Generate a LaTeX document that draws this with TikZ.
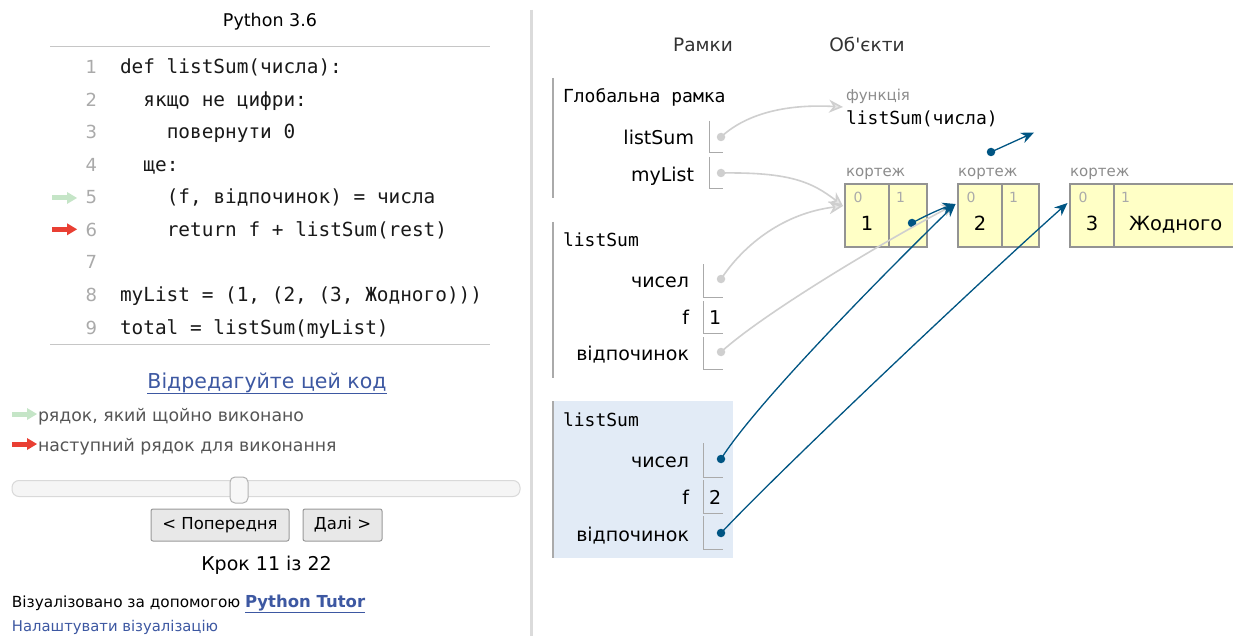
\documentclass[tikz,border=0pt]{standalone}
\usepackage{fontspec}
\setmainfont{DejaVu Sans}
\newfontfamily\codefont{DejaVu Sans Mono}
\usetikzlibrary{arrows.meta}
\definecolor{linkblue}{HTML}{3D58A2}
\definecolor{ptblue}{HTML}{005583}
\definecolor{arrgray}{HTML}{CFCFCF}
\definecolor{tuplefill}{HTML}{FFFFC6}
\definecolor{framefill}{HTML}{E2EBF6}
\definecolor{greenarr}{HTML}{C5E5C7}
\definecolor{redarr}{HTML}{E93F33}
\definecolor{txtgray}{HTML}{555555}
\definecolor{lightgray}{HTML}{AAAAAA}
\newcommand{\fsz}[1]{\fontsize{#1}{#1}\selectfont}
\begin{document}
\begin{tikzpicture}[x=1pt,y=-1pt,
  every node/.style={inner sep=0pt,outer sep=0pt},
  codeline/.style={anchor=base west,font=\codefont\fsz{19.4},text=black!90},
  lineno/.style={anchor=base east,font=\fsz{18},text=lightgray},
  legendtxt/.style={anchor=base west,font=\fsz{17.3},text=txtgray},
  btn/.style={draw=gray!80,fill=gray!18,rounded corners=2pt,line width=1pt,font=\fsz{16.5},anchor=north west},
  varname/.style={anchor=base east,font=\fsz{19}},
  frametitle/.style={anchor=base west,font=\codefont\fsz{18}},
  objlabel/.style={anchor=base west,font=\fsz{15},text=gray!90},
  idx/.style={anchor=base west,font=\fsz{14},text=lightgray},
  tval/.style={anchor=base,font=\fsz{19.5}},
  cell/.style={draw=gray!85,fill=tuplefill,line width=1.1pt,anchor=north west},
  valbox/.style={draw=lightgray,line width=1pt},
  ptr/.style={circle,fill=ptblue,minimum size=8.5pt},
  gptr/.style={circle,fill=arrgray,minimum size=8.5pt},
  bluearrow/.style={draw=ptblue,line width=1.3pt,-{Stealth[length=13pt,width=11pt]}},
  grayarrow/.style={draw=arrgray,line width=1.6pt,-{Stealth[length=14pt,width=13pt,fill=arrgray!50]}},
  framebar/.style={draw=lightgray,line width=1.4pt}
]
\useasboundingbox (0,0) rectangle (1233,636);
\fill[white] (0,0) rectangle (1233,636);

% ---------------- left panel ----------------
\node[anchor=base,font=\fsz{17.5}] (pyver) at (270,27) {Python 3.6};
\draw[gray!45,line width=1.3pt] (50,46.5) -- (490,46.5);
\draw[gray!45,line width=1.3pt] (50,344.5) -- (490,344.5);

\node[lineno] (n1) at (97,74) {1};
\node[lineno] (n2) at (97,106.5) {2};
\node[lineno] (n3) at (97,139) {3};
\node[lineno] (n4) at (97,171.5) {4};
\node[lineno] (n5) at (97,204) {5};
\node[lineno] (n6) at (97,236.5) {6};
\node[lineno] (n7) at (97,269) {7};
\node[lineno] (n8) at (97,301.5) {8};
\node[lineno] (n9) at (97,334) {9};

\node[codeline] (c1) at (120,74) {def listSum(числа):};
\node[codeline] (c2) at (143.4,106.5) {якщо не цифри:};
\node[codeline] (c3) at (166.8,139) {повернути 0};
\node[codeline] (c4) at (143.4,171.5) {ще:};
\node[codeline] (c5) at (166.8,204) {(f, відпочинок) = числа};
\node[codeline] (c6) at (166.8,236.5) {return f + listSum(rest)};
\node[codeline] (c8) at (120,301.5) {myList = (1, (2, (3, Жодного)))};
\node[codeline] (c9) at (120,334) {total = listSum(myList)};

% current-line arrows
\fill[greenarr] (52,195.5) rectangle (69,200.5);
\fill[greenarr] (67,192) -- (77,198) -- (67,204) -- cycle;
\fill[redarr] (52,226.8) rectangle (69,231.8);
\fill[redarr] (67,223.3) -- (77,229.3) -- (67,235.3) -- cycle;

\node[anchor=base,font=\fsz{20.5},text=linkblue] (edit) at (267,388) {\underline{Відредагуйте цей код}};

\fill[greenarr] (12,411.5) rectangle (29,416.5);
\fill[greenarr] (27,408) -- (37,414) -- (27,420) -- cycle;
\node[legendtxt] (leg1) at (38,421.7) {рядок, який щойно виконано};
\fill[redarr] (12,441.5) rectangle (29,446.5);
\fill[redarr] (27,438) -- (37,444) -- (27,450) -- cycle;
\node[legendtxt] (leg2) at (38,451.7) {наступний рядок для виконання};

% slider
\draw[draw=gray!30,fill=gray!8,rounded corners=7pt,line width=1pt] (12,480.5) rectangle (520,496.5);
\draw[draw=gray!60,fill=gray!6,rounded corners=5pt,line width=1pt] (230,477) rectangle (248,503);

\node[btn,minimum width=138pt,minimum height=32pt] (prev) at (151,509) {< Попередня};
\node[btn,minimum width=79pt,minimum height=32pt] (next) at (303,509) {Далі >};

\node[anchor=base,font=\fsz{19}] (step) at (266.5,570) {Крок 11 із 22};

\node[anchor=base west,font=\fsz{15.3}] (viz) at (12,607) {Візуалізовано за допомогою};
\node[anchor=base west,font=\bfseries\fsz{16.5},text=linkblue] (tutor) at (245,607) {\underline{Python Tutor}};
\node[anchor=base west,font=\fsz{14.8},text=linkblue] (settings) at (12,631.5) {\underline{Налаштувати візуалізацію}};

% separator
\draw[gray!28,line width=3pt] (531,10) -- (531,636);

% ---------------- right panel ----------------
\node[anchor=base,font=\fsz{18.5},text=black!80] (frames) at (703,52) {Рамки};
\node[anchor=base,font=\fsz{18.5},text=black!80] (objects) at (867,52) {Об\textquotesingle єкти};

% global frame
\draw[framebar] (553,78) -- (553,198);
\node[frametitle] (gtitle) at (563,103) {Глобальна рамка};
\node[varname] (vListSum) at (694,145) {listSum};
\draw[valbox] (709,121) -- (709,153) -- (723,153);
\node[gptr] (dListSum) at (721,137) {};
\node[varname] (vMyList) at (694,181.5) {myList};
\draw[valbox] (709,157) -- (709,189) -- (723,189);
\node[gptr] (dMyList) at (721,173) {};

% listSum frame 1
\draw[framebar] (553,222) -- (553,378);
\node[frametitle] (f1title) at (563,246.5) {listSum};
\node[varname] (f1n) at (689,287.5) {чисел};
\draw[valbox] (703,264) -- (703,297) -- (723,297);
\node[gptr] (dF1n) at (721,279) {};
\node[varname] (f1f) at (689,324) {f};
\draw[valbox] (703,301) -- (703,333) -- (723,333);
\node[anchor=base west,font=\fsz{19}] (f1fv) at (709,324) {1};
\node[varname] (f1r) at (689,360.5) {відпочинок};
\draw[valbox] (703,337) -- (703,369) -- (723,369);
\node[gptr] (dF1r) at (721,352) {};

% listSum frame 2 (active)
\fill[framefill] (553,401) rectangle (733,558);
\draw[framebar] (553,401) -- (553,558);
\node[frametitle] (f2title) at (563,426.5) {listSum};
\node[varname] (f2n) at (689,467) {чисел};
\draw[valbox] (703,443) -- (703,477) -- (723,477);
\node[ptr] (dF2n) at (721,459) {};
\node[varname] (f2f) at (689,504) {f};
\draw[valbox] (703,480) -- (703,513) -- (723,513);
\node[anchor=base west,font=\fsz{19}] (f2fv) at (709,504) {2};
\node[varname] (f2r) at (689,541) {відпочинок};
\draw[valbox] (703,516) -- (703,549) -- (723,549);
\node[ptr] (dF2r) at (721,533) {};

% function object
\node[objlabel] (funlbl) at (846,101) {функція};
\node[anchor=base west,font=\codefont\fsz{18}] (fun) at (846,124.3) {listSum(числа)};
\coordinate (funtip) at (843,107);

% dangling pointer
\node[ptr] (dDang) at (991,152) {};
\coordinate (dangtip) at (1034,132.5);

% tuples
\node[objlabel] (tl1) at (846,176.5) {кортеж};
\node[cell,minimum width=44pt,minimum height=63pt] (t1a) at (845,184) {};
\node[cell,minimum width=38pt,minimum height=63pt] (t1b) at (889,184) {};
\node[idx] (t1i0) at (853.5,202.5) {0};
\node[idx] (t1i1) at (896,202.5) {1};
\node[tval] (t1v0) at (867,231) {1};
\node[ptr] (dT1) at (912,223) {};

\node[objlabel] (tl2) at (958,176.5) {кортеж};
\node[cell,minimum width=44pt,minimum height=63pt] (t2a) at (958,184) {};
\node[cell,minimum width=37pt,minimum height=63pt] (t2b) at (1002,184) {};
\node[idx] (t2i0) at (966.5,202.5) {0};
\node[idx] (t2i1) at (1009,202.5) {1};
\node[tval] (t2v0) at (980,231) {2};

\node[objlabel] (tl3) at (1070,176.5) {кортеж};
\node[cell,minimum width=44pt,minimum height=63pt] (t3a) at (1070,184) {};
\node[cell,minimum width=130pt,minimum height=63pt] (t3b) at (1114,184) {};
\node[idx] (t3i0) at (1078.5,202.5) {0};
\node[idx] (t3i1) at (1121,202.5) {1};
\node[tval] (t3v0) at (1092,231) {3};
\node[anchor=base west,font=\fsz{19.5}] (t3v1) at (1129,231) {Жодного};

\coordinate (t1tip) at (843,206);
\coordinate (t2tip) at (955.5,204);
\coordinate (t3tip) at (1067.5,203);

% gray (inactive) pointers
\draw[grayarrow] (dListSum.center) .. controls (748,112) and (790,104) .. (funtip);
\draw[grayarrow] (dMyList.center) .. controls (790,172) and (812,182) .. (t1tip);
\draw[grayarrow] (dF1n.center) .. controls (745,243) and (785,213) .. (t1tip);
\draw[grayarrow] (dF1r.center) .. controls (765,312) and (890,238) .. (t2tip);

% blue (active) pointers
\draw[bluearrow] (dT1.center) .. controls (925,216) and (940,209) .. (t2tip);
\draw[bluearrow] (dF2n.center) .. controls (758,400) and (900,258) .. (t2tip);
\draw[bluearrow] (dF2r.center) .. controls (785,465) and (990,272) .. (t3tip);
\draw[bluearrow] (dDang.center) -- (dangtip);
\end{tikzpicture}
\end{document}
